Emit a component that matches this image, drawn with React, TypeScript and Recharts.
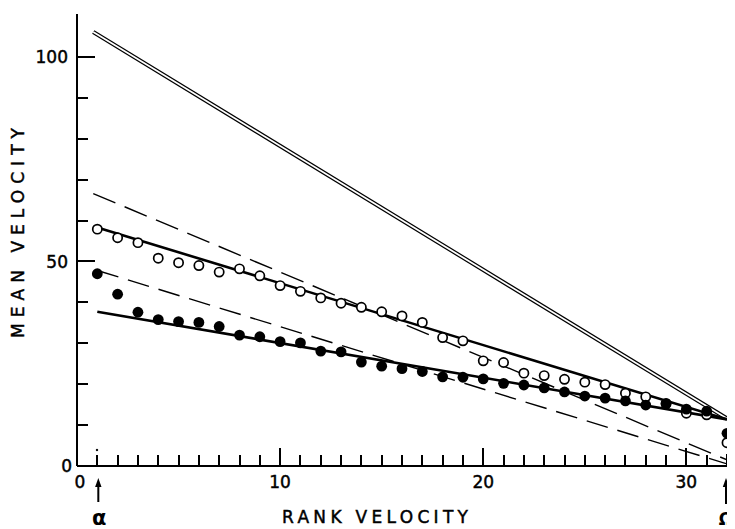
import React from "react";
import { ComposedChart, Line, Scatter, XAxis, YAxis } from "recharts";

// Rank positions of the vehicles (alpha = 1 ... omega = 32)
const ranks = [
  1, 2, 3, 4, 5, 6, 7, 8, 9, 10, 11, 12, 13, 14, 15, 16,
  17, 18, 19, 20, 21, 22, 23, 24, 25, 26, 27, 28, 29, 30, 31, 32,
];

// Mean velocity, open circles
const openVelocity = [
  57.9, 55.8, 54.6, 50.8, 49.7, 49.0, 47.4, 48.2, 46.5, 44.1, 42.7, 41.1,
  39.8, 38.8, 37.7, 36.7, 35.1, 31.4, 30.6, 25.7, 25.3, 22.7, 22.1, 21.2,
  20.5, 19.9, 17.8, 16.9, 15.3, 12.9, 12.5, 5.7,
];

// Mean velocity, filled circles
const filledVelocity = [
  47.0, 42.0, 37.6, 35.8, 35.3, 35.1, 34.1, 32.0, 31.6, 30.4, 30.1, 28.1,
  27.9, 25.4, 24.4, 23.8, 23.1, 21.8, 21.7, 21.3, 20.2, 19.8, 19.1, 18.1,
  17.1, 16.6, 15.9, 14.9, 15.2, 13.9, 13.4, 8.0,
];

// Reference lines (end points)
const doubleLineX = [0.8, 32];
const doubleLineY = [106.1, 11.6];
const upperFitX = [1, 32];
const upperFitY = [58.3, 11.4];
const lowerFitX = [1, 32];
const lowerFitY = [37.7, 11.4];
const upperDashX = [0.8, 32];
const upperDashY = [66.6, 1.5];
const lowerDashX = [1, 32];
const lowerDashY = [47.8, 0.5];

// Axis ticks and labels
const xTicks = [
  0, 1, 2, 3, 4, 5, 6, 7, 8, 9, 10, 11, 12, 13, 14, 15, 16,
  17, 18, 19, 20, 21, 22, 23, 24, 25, 26, 27, 28, 29, 30, 31, 32,
];
const xTickLabels = [0, 10, 20, 30];
const yTicks = [0, 10, 20, 30, 40, 50, 60, 70, 80, 90, 100];
const yTickLabels = [0, 50, 100];

const xTitle = "RANK  VELOCITY";
const yTitle = "MEAN  VELOCITY";
const firstMark = "α";
const lastMark = "Ω";

const pts = (xs: number[], ys: number[]) => xs.map((x, i) => ({ x, y: ys[i] }));

const openPts = pts(ranks, openVelocity);
const filledPts = pts(ranks, filledVelocity);
const doubleLine = pts(doubleLineX, doubleLineY);
const upperFit = pts(upperFitX, upperFitY);
const lowerFit = pts(lowerFitX, lowerFitY);
const upperDash = pts(upperDashX, upperDashY);
const lowerDash = pts(lowerDashX, lowerDashY);

// Inward tick marks placed on the axes through the chart scales
const xTickMarks = xTicks.filter((v) => v > 0).map((v) => ({ x: v, y: 0 }));
const yTickMarks = yTicks.filter((v) => v > 0).map((v) => ({ x: 0, y: v }));

const FONT = "'DejaVu Sans', sans-serif";
const INK = "#000";
const textInk = { fill: INK, stroke: INK, strokeWidth: 0.45 };

const XTickMark = (p: any) => {
  const v = p.payload.x as number;
  const len = v % 10 === 0 ? 18 : v === 32 ? 12 : 11;
  const x0 = Math.round(p.cx) - 1;
  return (
    <path
      d={`M${x0},${p.cy - len}h2v${len}h-2Z${v === 1 ? ` M${x0 + 1},${p.cy - 17.2}a1.2,1.2 0 1,0 0.01,0Z` : ""}`}
      fill={INK}
    />
  );
};

const YTickMark = (p: any) => {
  const v = p.payload.y as number;
  const len = v % 50 === 0 ? 18 : 11;
  const y0 = Math.round(p.cy) - 1;
  return <rect x={p.cx} y={y0} width={len} height={2} fill={INK} />;
};

const UpArrow = ({ x, y1, y2 }: { x: number; y1: number; y2: number }) => (
  <g>
    <rect x={x - 1} y={y2 + 6} width={2} height={y1 - y2 - 6} fill={INK} />
    <polygon points={`${x},${y2} ${x - 3.2},${y2 + 9} ${x + 3.2},${y2 + 9}`} fill={INK} />
  </g>
);

const XTick = (props: any) => {
  const { x, y, payload } = props;
  const v = Number(payload.value);
  return (
    <g>
      {xTickLabels.includes(v) ? (
        <text x={v === 0 ? x + 3 : x} y={y + 22} textAnchor="middle" fontFamily={FONT} fontSize={17} {...textInk}>
          {v}
        </text>
      ) : null}
      {v === 1 ? (
        <g>
          <UpArrow x={x + 1} y1={y + 36} y2={y + 12} />
          <text x={x + 2} y={y + 59} textAnchor="middle" fontFamily={FONT} fontWeight="bold" fontSize={21} fill={INK}>
            {firstMark}
          </text>
        </g>
      ) : null}
      {v === 32 ? (
        <g>
          <UpArrow x={x - 1} y1={y + 38} y2={y + 12} />
          <text x={x - 1} y={y + 59} textAnchor="middle" fontFamily={FONT} fontWeight="bold" fontSize={17} fill={INK}>
            {lastMark}
          </text>
        </g>
      ) : null}
    </g>
  );
};

const YTick = (props: any) => {
  const { x, y, payload } = props;
  const v = Number(payload.value);
  return yTickLabels.includes(v) ? (
    <text x={v === 0 ? x - 5 : x - 9} y={y} dy="0.36em" textAnchor="end" fontFamily={FONT} fontSize={17} {...textInk}>
      {v}
    </text>
  ) : (
    <g />
  );
};

const XTitle = (props: any) => {
  const vb = props.viewBox;
  return (
    <text
      x={vb.x + 205}
      y={vb.y + 57}
      fontFamily={FONT}
      fontSize={17}
      {...textInk}
      textLength={186}
      lengthAdjust="spacing"
    >
      {xTitle}
    </text>
  );
};

const YTitle = (props: any) => {
  const vb = props.viewBox;
  const cx = vb.x + 16;
  const cy = 225;
  return (
    <text
      x={cx}
      y={cy}
      transform={`rotate(-90 ${cx} ${cy})`}
      textAnchor="middle"
      fontFamily={FONT}
      fontSize={17}
      {...textInk}
      textLength={210}
      lengthAdjust="spacing"
    >
      {yTitle}
    </text>
  );
};

const OpenDot = (p: any) => (
  <circle cx={p.cx} cy={p.cy} r={4.6} fill="#fff" stroke={INK} strokeWidth={1.7} />
);
const FilledDot = (p: any) => <circle cx={p.cx} cy={p.cy} r={5.4} fill={INK} />;

export default function App() {
  return (
    <div style={{ width: 727, height: 521, background: "#fff" }}>
      <ComposedChart
        width={727}
        height={521}
        margin={{ top: 6, right: 8, bottom: 23, left: 0 }}
      >
        <XAxis
          type="number"
          dataKey="x"
          domain={[0, 32]}
          ticks={xTicks}
          interval={0}
          tick={<XTick />}
          tickLine={false}
          tickSize={0}
          tickMargin={0}
          height={40}
          axisLine={{ stroke: INK, strokeWidth: 2 }}
          label={<XTitle />}
        />
        <YAxis
          type="number"
          dataKey="y"
          domain={[0, 110.5]}
          ticks={yTicks}
          interval={0}
          tick={<YTick />}
          tickLine={false}
          tickSize={0}
          tickMargin={0}
          width={69}
          axisLine={{ stroke: INK, strokeWidth: 2 }}
          label={<YTitle />}
        />
        <Line data={doubleLine} dataKey="y" type="linear" stroke={INK} strokeWidth={4.2} dot={false} isAnimationActive={false} />
        <Line data={doubleLine} dataKey="y" type="linear" stroke="#fff" strokeWidth={1.8} dot={false} isAnimationActive={false} />
        <Line data={upperDash} dataKey="y" type="linear" stroke={INK} strokeWidth={1.4} strokeDasharray="24 10" dot={false} isAnimationActive={false} />
        <Line data={lowerDash} dataKey="y" type="linear" stroke={INK} strokeWidth={1.4} strokeDasharray="22 10" dot={false} isAnimationActive={false} />
        <Line data={upperFit} dataKey="y" type="linear" stroke={INK} strokeWidth={2.6} dot={false} isAnimationActive={false} />
        <Line data={lowerFit} dataKey="y" type="linear" stroke={INK} strokeWidth={2.6} dot={false} isAnimationActive={false} />
        <Scatter data={openPts} shape={<OpenDot />} isAnimationActive={false} />
        <Scatter data={filledPts} shape={<FilledDot />} isAnimationActive={false} />
        <Scatter data={xTickMarks} shape={<XTickMark />} isAnimationActive={false} />
        <Scatter data={yTickMarks} shape={<YTickMark />} isAnimationActive={false} />
      </ComposedChart>
    </div>
  );
}
